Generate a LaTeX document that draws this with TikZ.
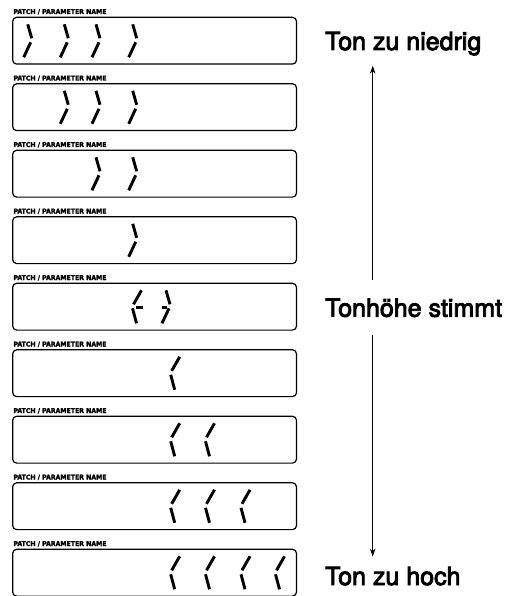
\documentclass[tikz,border=0pt]{standalone}
\usepackage{fontspec}
\usepackage{graphicx}
\setmainfont{TeX Gyre Heros}
\newfontfamily\bigfont{TeX Gyre Heros}[FakeBold=3.5]
\newfontfamily\lblfont{DejaVu Sans Condensed}[FakeBold=2]
\usetikzlibrary{arrows.meta}
\tikzset{
  lcdbox/.style={draw=black, line width=1.2pt, rounded corners=4pt},
  seg/.style={line width=2.9pt, line cap=butt},
  lbl/.style={anchor=base west, inner sep=0pt},
  bigtxt/.style={anchor=base west, inner sep=0pt, font=\bigfont\fontsize{25}{28}\selectfont},
  arr/.style={line width=0.9pt, -{Stealth[length=8pt,width=5.5pt]}}
}
% > chevron: tip x, box top t
\newcommand\chR[2]{%
  \draw[seg] (#1-4,#2+7) -- (#1,#2+21);
  \draw[seg] (#1-1,#2+25) -- (#1-8,#2+40);}
% < chevron
\newcommand\chL[2]{%
  \draw[seg] (#1+8,#2+7) -- (#1,#2+21);
  \draw[seg] (#1-1,#2+25) -- (#1+3,#2+40);}
\begin{document}
\begin{tikzpicture}[x=1pt,y=-1pt]
\useasboundingbox (0,0) rectangle (519,596);
\foreach \i in {0,...,8}{
  \pgfmathsetmacro{\t}{17.3+66.5*\i}
  \node[lbl] (l\i) at (13.3,\t-3.3) {\resizebox{93pt}{4.9pt}{\lblfont\bfseries PATCH / PARAMETER NAME}};
  \draw[lcdbox] (12.7,\t) rectangle (296.5,\t+46.8);
}
% box 1
\chR{31.7}{17.3}\chR{68.3}{17.3}\chR{100}{17.3}\chR{136.7}{17.3}
% box 2
\chR{68.3}{83.8}\chR{100}{83.8}\chR{136.7}{83.8}
% box 3
\chR{100}{150.3}\chR{136.7}{150.3}
% box 4
\chR{136.7}{216.8}
% box 5
\chL{133.5}{283.3}
\draw[seg] (136,307.8) -- (142.5,307.8);
\chR{170}{283.3}
\draw[seg] (161.5,307.8) -- (167,307.8);
% box 6
\chL{171.7}{349.8}
% box 7
\chL{171.7}{416.3}\chL{206.5}{416.3}
% box 8
\chL{171.7}{482.8}\chL{206.5}{482.8}\chL{242}{482.8}
% box 9
\chL{171.7}{549.3}\chL{206.5}{549.3}\chL{242}{549.3}\chL{276.5}{549.3}
% right side
\coordinate (ax) at (372.7,0);
\node[bigtxt] (low) at (325,50) {Ton zu niedrig};
\node[bigtxt] (mid) at (325,316.7) {Tonhöhe stimmt};
\node[bigtxt] (high) at (325,585) {Ton zu hoch};
\draw[arr, shorten <=18pt, shorten >=10pt] (mid.north -| ax) -- (low.south -| ax);
\draw[arr, shorten <=18pt, shorten >=10pt] (mid.south -| ax) -- (high.north -| ax);
\end{tikzpicture}
\end{document}
